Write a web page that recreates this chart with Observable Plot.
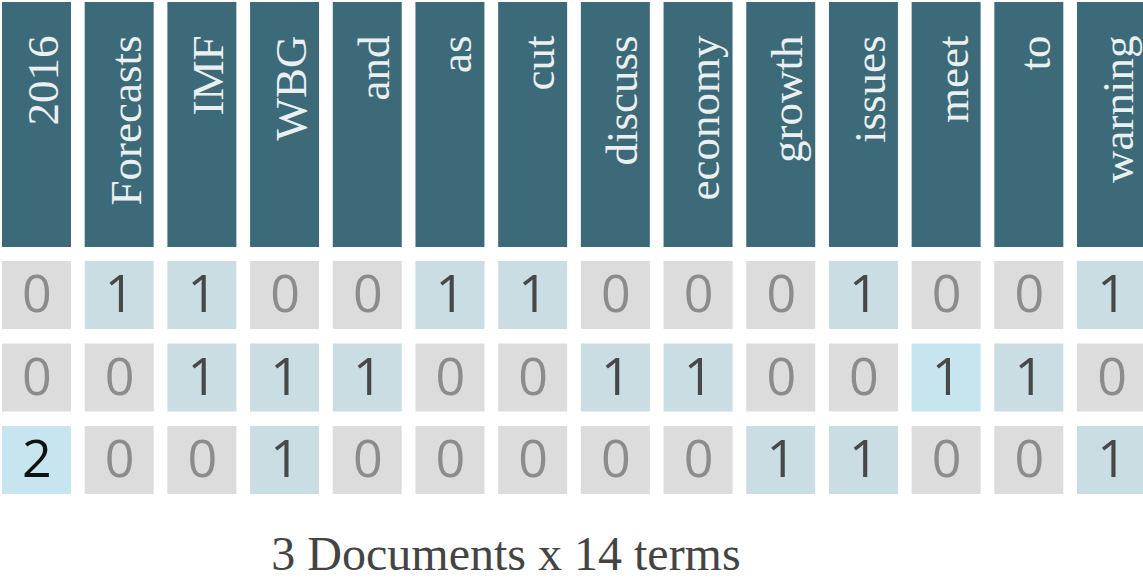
<!DOCTYPE html>
<html>
<head>
<meta charset="utf-8">
<script src="https://cdn.jsdelivr.net/npm/d3@7"></script>
<script src="https://cdn.jsdelivr.net/npm/@observablehq/plot@0.6"></script>
<style>
  html, body { margin: 0; padding: 0; background: #ffffff; overflow: hidden; }
  #chart { width: 1143px; }
  #caption {
    width: 1012px; text-align: center;
    font-family: "Liberation Serif", serif; font-size: 48px; line-height: 48px;
    color: #444444; margin-top: 21px;
  }
</style>
</head>
<body>
<div id="chart"></div>
<div id="caption">3 Documents x 14 terms</div>
<script>
const terms = ["2016","Forecasts","IMF","WBG","and","as","cut","discuss","economy","growth","issues","meet","to","warning"];
const docs = ["doc1","doc2","doc3"];
const doc1 = [0,1,1,0,0,1,1,0,0,0,1,0,0,1];
const doc2 = [0,0,1,1,1,0,0,1,1,0,0,1,1,0];
const doc3 = [2,0,0,1,0,0,0,0,0,1,1,0,0,1];
const highlighted = [["doc2","meet"],["doc3","2016"]];

const counts = [doc1, doc2, doc3];
const cells = [];
docs.forEach((doc, i) => terms.forEach((term, j) => {
  const value = counts[i][j];
  const hl = highlighted.some(([d, t]) => d === doc && t === term);
  cells.push({doc, term, value, kind: value === 0 ? "zero" : (hl ? "highlight" : "present")});
}));

const xScale = {domain: terms, range: [2, 1146], paddingInner: 0.166, paddingOuter: 0, round: false, axis: null};

const header = Plot.plot({
  width: 1143, height: 249, marginTop: 2, marginBottom: 2, marginLeft: 0, marginRight: 0,
  style: {background: "transparent", overflow: "visible"},
  x: xScale,
  marks: [
    Plot.cell(terms, {x: d => d, fill: "#3d6a78"}),
    Plot.text(terms, {
      x: d => d, text: d => d, frameAnchor: "top", rotate: -90, textAnchor: "end",
      fontSize: 45, fontFamily: "Liberation Serif", fill: "#eaf0f1", dx: -11, dy: 33
    })
  ]
});

const body = Plot.plot({
  width: 1143, height: 260, marginTop: 0, marginBottom: 0, marginLeft: 0, marginRight: 0,
  style: {background: "transparent", overflow: "visible"},
  x: xScale,
  y: {domain: docs, range: [12, 245], paddingInner: 0.176, paddingOuter: 0, round: false, axis: null},
  color: {domain: ["zero","present","highlight"], range: ["#dcdcdc","#c9dde2","#c6e5ee"]},
  marks: [
    Plot.cell(cells, {x: "term", y: "doc", fill: "kind"}),
    Plot.text(cells, {
      x: "term", y: "doc", text: d => String(d.value),
      fontSize: 52, fontFamily: "Open Sans",
      fill: d => d.value === 0 ? "#8c8c8c" : (d.value === 1 ? "#484848" : "#111111")
    })
  ]
});

const chart = document.getElementById("chart");
chart.appendChild(header);
chart.appendChild(body);
</script>
</body>
</html>
